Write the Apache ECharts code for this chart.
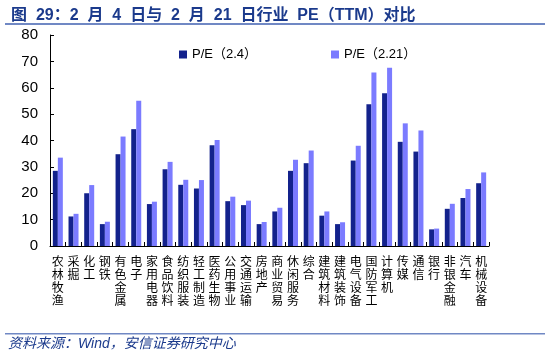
<!DOCTYPE html>
<html>
<head>
<meta charset="utf-8">
<script src="https://cdn.jsdelivr.net/npm/echarts@6/dist/echarts.min.js"></script>
<style>
  html, body { margin: 0; padding: 0; background: #fff; }
  #chart { width: 550px; height: 354px; }
</style>
</head>
<body>
<div id="chart"></div>
<script>
const industries = ['农林牧渔', '采掘', '化工', '钢铁', '有色金属', '电子', '家用电器', '食品饮料', '纺织服装', '轻工制造',
  '医药生物', '公用事业', '交通运输', '房地产', '商业贸易', '休闲服务', '综合', '建筑材料', '建筑装饰', '电气设备',
  '国防军工', '计算机', '传媒', '通信', '银行', '非银金融', '汽车', '机械设备']
const pe0204 = [28.5, 11.2, 20.0, 8.3, 34.8, 44.3, 15.9, 29.1, 23.2, 21.8,
  38.2, 17.0, 15.5, 8.3, 13.1, 28.5, 31.4, 11.5, 8.3, 32.4,
  53.7, 57.9, 39.5, 35.8, 6.3, 14.1, 18.2, 23.8]
const pe0221 = [33.5, 12.2, 23.1, 9.2, 41.5, 55.1, 16.8, 31.9, 25.1, 25.0,
  40.2, 18.7, 17.2, 9.1, 14.5, 32.7, 36.2, 13.1, 9.0, 38.0,
  65.8, 67.6, 46.5, 43.8, 6.6, 16.0, 21.6, 27.9]
const seriesNames = ['P/E（2.4）', 'P/E（2.21）']

const chart = echarts.init(document.getElementById('chart'))
const cjk = '"Liberation Sans", "Noto Sans CJK SC", sans-serif'
const option = {
  animation: false,
  textStyle: { fontFamily: cjk },
  title: {
    text: '图  29：2  月  4  日与  2  月  21  日行业  PE（TTM）对比',
    left: 6,
    top: 3,
    textStyle: { fontSize: 16, fontWeight: 'bold', color: '#1b3a8c', fontFamily: cjk }
  },
  graphic: [
    { type: 'rect', shape: { x: 5, y: 23, width: 540, height: 2 }, style: { fill: '#7088c4' } },
    { type: 'rect', shape: { x: 5, y: 333, width: 540, height: 1.5 }, style: { fill: '#7088c4' } },
    {
      type: 'text', left: 8, top: 337,
      style: { text: '资料来源：Wind，安信证券研究中心', fill: '#1b3a8c', font: 'italic 14px ' + cjk }
    }
  ],
  legend: {
    data: seriesNames,
    top: 43,
    left: 174,
    itemGap: 74,
    itemWidth: 8,
    itemHeight: 8,
    icon: 'rect',
    textStyle: { fontSize: 13, color: '#000' }
  },
  grid: { left: 50, right: 61, top: 35, bottom: 108 },
  xAxis: {
    type: 'category',
    data: industries,
    axisLine: { lineStyle: { color: '#000' } },
    axisTick: { show: true, inside: true, length: 4, lineStyle: { color: '#000' } },
    axisLabel: {
      interval: 0,
      margin: 10,
      fontSize: 12,
      lineHeight: 13,
      color: '#000',
      verticalAlign: 'top',
      formatter: function (v) { return v.split('').join('\n') }
    }
  },
  yAxis: {
    type: 'value',
    min: 0,
    max: 80,
    interval: 10,
    splitLine: { show: false },
    axisLine: { show: true, lineStyle: { color: '#000' } },
    axisTick: { show: true, inside: true, length: 4, lineStyle: { color: '#000' } },
    axisLabel: { fontSize: 15, color: '#000', margin: 12 }
  },
  series: [{
    name: seriesNames[0],
    type: 'bar',
    data: pe0204,
    barWidth: 5,
    barGap: '0%',
    itemStyle: { color: '#13228c' }
  }, {
    name: seriesNames[1],
    type: 'bar',
    data: pe0221,
    barWidth: 5,
    itemStyle: { color: '#7b7bff' }
  }]
}
chart.setOption(option)
</script>
</body>
</html>
